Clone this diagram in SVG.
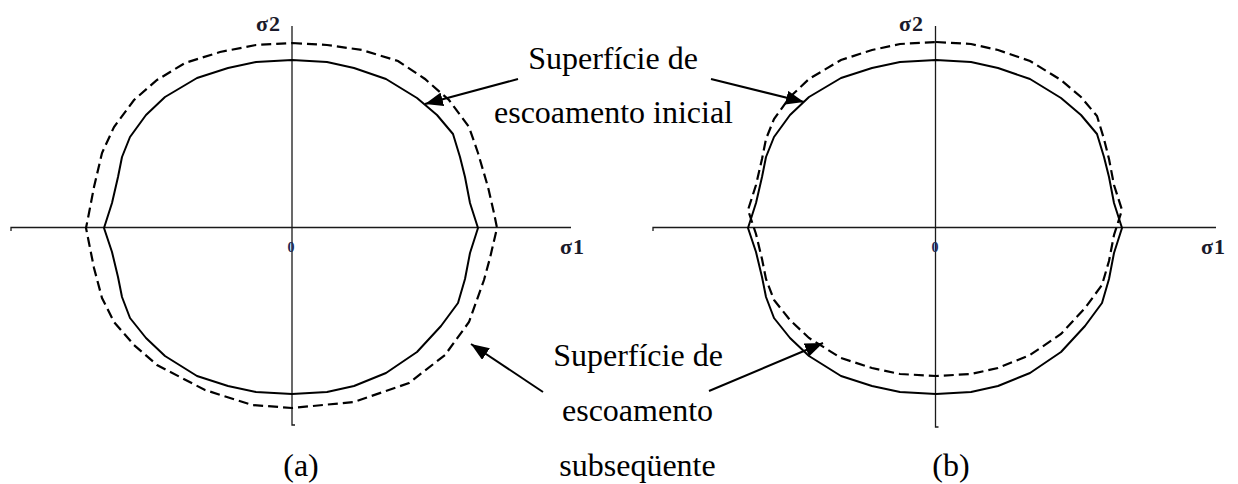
<svg xmlns="http://www.w3.org/2000/svg" width="1238" height="484" viewBox="0 0 1238 484">
<style>
.bg{fill:#ffffff}
.axis{stroke:#1a1a1a;stroke-width:1.3;fill:none}
.solid{stroke:#000;stroke-width:2;fill:none;stroke-linejoin:round}
.dash{stroke:#000;stroke-width:2.2;fill:none;stroke-dasharray:10 5}
.lbl{font-family:'Liberation Serif','Times New Roman',serif;font-size:32px;fill:#000;text-anchor:middle}
.sig{font-family:'Liberation Serif','Times New Roman',serif;font-size:22px;font-weight:bold;fill:#1a1a2a;letter-spacing:1px}
.zero{font-family:'Liberation Serif','Times New Roman',serif;font-size:14px;font-weight:bold;fill:#1f2a55;text-anchor:middle}
.conn{stroke:#000;stroke-width:2;fill:none}
</style>
<defs>
<marker id="ah" markerUnits="userSpaceOnUse" markerWidth="19" markerHeight="14" refX="18" refY="7" orient="auto">
<path d="M0,0 L18,7 L0,14 Z" fill="#000"/>
</marker>
<path id="solidShape" d="M292,60 L327,62 L354,68 L386,79 L417,98 L437,115 L453,134 L460,157 L465,177 L470,203 L478,228 L470,253 L465,279 L458,303 L441,326 L417,352 L386,373 L354,386 L327,392 L292,394 L256,392 L228,386 L197,376 L165,356 L146,338 L130,318 L122,297 L118,277 L112,252 L104,228 L112,203 L118,177 L122,157 L130,137 L146,115 L165,97 L197,78 L228,68 L256,62 Z"/>
</defs>
<rect class="bg" x="0" y="0" width="1238" height="484"/>

<g id="plot-a">
<path class="axis" d="M11,231 L11,227.5 L571,227.5"/>
<path class="axis" d="M292,26 L292,425 L295,425"/>
<text class="sig" x="256" y="31">σ2</text>
<text class="sig" x="560" y="254">σ1</text>
<text class="zero" x="291" y="252">0</text>
<use href="#solidShape" class="solid"/>
<path class="dash" d="M292,43 L327,45 L362,50 L398,61 L425,79 L449,100 L469,127 L478,153 L488,187 L494,213 L497,228 L490,258 L484,280 L469,322 L445,355 L409,383 L354,402 L292,408 L252,405 L205,390 L157,365 L134,345 L114,322 L102,298 L94,268 L89,243 L86,228 L89,213 L94,187 L102,153 L114,127 L134,100 L157,80 L185,63 L220,52 L256,45 Z"/>
<text class="lbl" x="301" y="476">(a)</text>
</g>

<g id="plot-b">
<path class="axis" d="M653,231 L653,227.5 L1216,227.5"/>
<path class="axis" d="M935.5,26 L935.5,427 L938.5,427"/>
<text class="sig" x="899" y="31">σ2</text>
<text class="sig" x="1201" y="254">σ1</text>
<text class="zero" x="935" y="252">0</text>
<use href="#solidShape" class="solid" transform="translate(644,0)"/>
<use href="#solidShape" class="dash" transform="translate(644,-18)"/>
<text class="lbl" x="951" y="476">(b)</text>
</g>

<g id="label-initial">
<text class="lbl" x="613" y="69">Superfície de</text>
<text class="lbl" x="613.5" y="123">escoamento inicial</text>
</g>

<g id="label-subsequent">
<text class="lbl" x="638" y="366">Superfície de</text>
<text class="lbl" x="637.5" y="421">escoamento</text>
<text class="lbl" x="637.5" y="476">subseqüente</text>
</g>

<g id="connectors">
<line class="conn" x1="518" y1="79" x2="425" y2="104" marker-end="url(#ah)"/>
<line class="conn" x1="711" y1="79" x2="804" y2="102" marker-end="url(#ah)"/>
<line class="conn" x1="543" y1="392" x2="471" y2="344" marker-end="url(#ah)"/>
<line class="conn" x1="709" y1="391" x2="823" y2="343" marker-end="url(#ah)"/>
</g>
</svg>
